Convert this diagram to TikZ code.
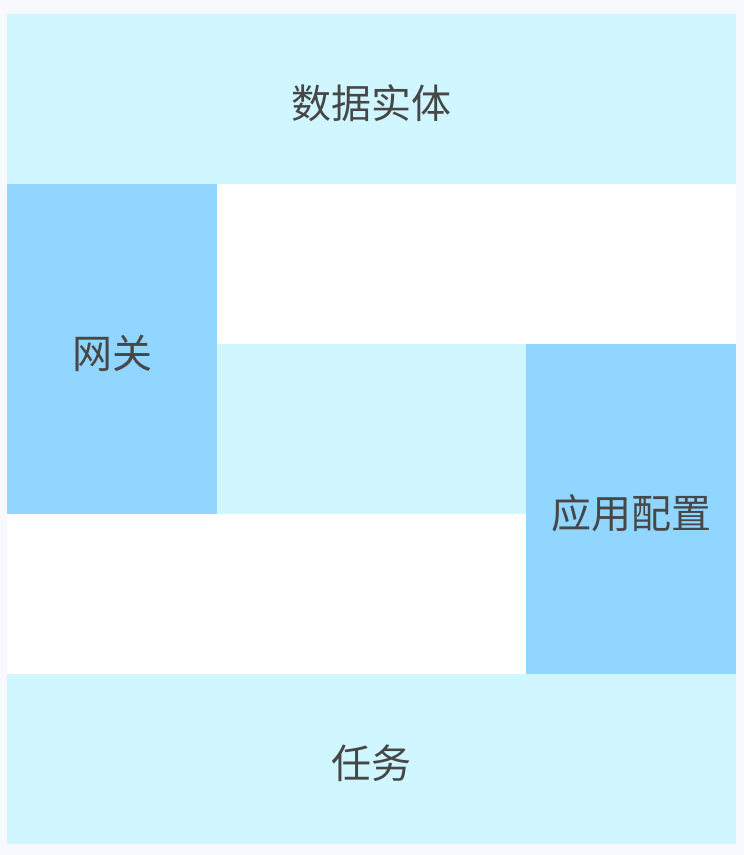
\documentclass[tikz,border=0pt]{standalone}
\usepackage{fontspec}
\newfontfamily\cjk{Noto Sans CJK SC}
\usetikzlibrary{positioning}
\definecolor{pagebg}{HTML}{F8F9FF}
\definecolor{lightcyan}{HTML}{D0F7FF}
\definecolor{midblue}{HTML}{91D6FF}
\definecolor{labelgray}{HTML}{474747}

\tikzset{
  block/.style={draw=none, inner sep=0pt, outer sep=0pt, anchor=north west,
    text=labelgray, font=\cjk\fontsize{40}{42}\selectfont,
    text height=40pt, text depth=1.6pt},
  wide/.style={block, fill=lightcyan, minimum width=729pt, minimum height=170pt},
  tall/.style={block, fill=midblue, minimum width=210pt, minimum height=330pt},
}

\begin{document}
\begin{tikzpicture}[x=1pt, y=-1pt]
        % Page and white field
        \fill[pagebg] (0,0) rectangle (744,855);
        \fill[white] (7,184) rectangle (736,674);

        % Top and bottom bands
        \node[wide] (entity) at (7,14) {数据实体};
        \node[wide] (task) at (7,674) {任务};

        % Side columns
        \node[tall] (gateway) at (7,184) {网关};
        \node[block, fill=lightcyan, minimum width=309pt, minimum height=170pt] (middle) at (217,344) {};
        \node[tall] (appconfig) at (526,344) {应用配置};
\end{tikzpicture}
\end{document}
